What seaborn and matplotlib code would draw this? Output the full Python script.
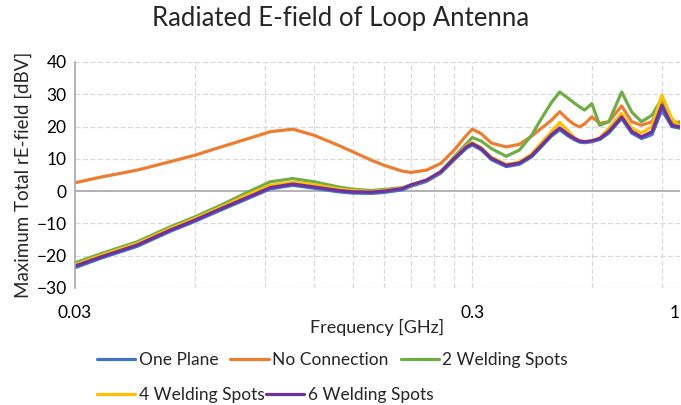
import matplotlib
matplotlib.use("Agg")
import matplotlib.pyplot as plt
import matplotlib.ticker as mticker
from matplotlib.lines import Line2D
import seaborn as sns
import pandas as pd

freq_ghz = [0.03, 0.035, 0.043, 0.052, 0.060, 0.070, 0.082, 0.093, 0.106, 0.12,
            0.138, 0.15, 0.167, 0.18, 0.20, 0.21, 0.23, 0.25, 0.27, 0.29,
            0.30, 0.316, 0.335, 0.365, 0.394, 0.423, 0.448, 0.475, 0.498, 0.524,
            0.543, 0.559, 0.575, 0.60, 0.628, 0.662, 0.713, 0.756, 0.80, 0.85,
            0.90, 0.954, 1.0]

one_plane = [-23.7, -20.7, -17.1, -12.5, -9.4, -5.8, -2.2, 0.7, 1.8, 0.9,
             -0.2, -0.6, -0.7, -0.4, 0.4, 1.5, 3.0, 5.6, 9.7, 13.3,
             14.3, 12.8, 9.8, 7.6, 8.3, 10.6, 13.8, 17.1, 19.0, 17.0,
             15.9, 15.2, 15.0, 15.3, 16.0, 18.0, 22.5, 18.0, 16.3, 17.5,
             25.1, 20.0, 19.5]
no_connection = [2.6, 4.4, 6.5, 9.1, 11.1, 13.7, 16.3, 18.4, 19.2, 17.3,
                 14.2, 12.2, 9.6, 8.0, 6.2, 5.8, 6.5, 8.6, 12.7, 17.3,
                 19.2, 17.8, 14.9, 13.7, 14.5, 17.0, 19.5, 22.0, 24.6, 22.0,
                 20.6, 19.9, 20.8, 23.0, 21.0, 21.5, 26.4, 21.5, 20.4, 21.5,
                 27.0, 21.0, 21.5]
two_spots = [-22.2, -19.3, -15.7, -11.1, -8.0, -4.3, -0.2, 2.9, 3.9, 2.9,
             1.3, 0.6, 0.2, 0.5, 1.1, 1.9, 3.4, 6.0, 10.6, 14.7,
             16.6, 15.5, 13.2, 10.8, 12.7, 17.3, 22.5, 27.5, 30.7, 28.7,
             27.2, 26.1, 25.1, 27.1, 20.4, 21.5, 30.7, 24.5, 21.5, 23.5,
             28.7, 21.5, 21.0]
four_spots = [-22.8, -19.8, -16.2, -11.6, -8.5, -4.9, -1.0, 1.8, 2.8, 2.0,
              0.7, 0.2, -0.1, 0.2, 0.9, 1.9, 3.4, 6.0, 10.3, 14.0,
              15.0, 13.5, 10.5, 8.3, 9.0, 11.5, 15.0, 18.5, 21.3, 18.5,
              16.5, 15.7, 15.3, 15.6, 16.5, 19.5, 24.1, 19.5, 18.0, 20.0,
              29.7, 22.5, 19.9]
six_spots = [-23.2, -20.3, -16.7, -12.1, -9.0, -5.4, -1.8, 1.1, 2.2, 1.3,
             0.2, -0.2, -0.3, 0.0, 0.8, 1.9, 3.4, 6.0, 10.1, 13.7,
             14.7, 13.2, 10.2, 8.0, 8.7, 11.0, 14.2, 17.5, 19.6, 17.5,
             16.3, 15.5, 15.3, 15.6, 16.3, 18.5, 23.0, 18.5, 16.8, 18.4,
             26.6, 20.4, 19.9]

series_names = ["One Plane", "No Connection", "2 Welding Spots",
                "4 Welding Spots", "6 Welding Spots"]
series_values = [one_plane, no_connection, two_spots, four_spots, six_spots]
colors = ["#4472C4", "#ED7D31", "#70AD47", "#FFC000", "#7030A0"]

x_ticks = [0.03, 0.3, 1]
x_tick_labels = ["0.03", "0.3", "1"]
y_ticks = [-30, -20, -10, 0, 10, 20, 30, 40]

rows = []
for name, vals in zip(series_names, series_values):
    for f, v in zip(freq_ghz, vals):
        rows.append({"Frequency": f, "Value": v, "Series": name})
df = pd.DataFrame(rows)

sns.set_theme(style="white")
plt.rcParams["font.family"] = ["Lato", "DejaVu Sans"]

fig = plt.figure(figsize=(6.81, 4.05), dpi=100)
ax = fig.add_axes([75 / 681, 1 - 288 / 405, 605 / 681, 226 / 405])

LW = 2.3
sns.lineplot(data=df, x="Frequency", y="Value", hue="Series",
             hue_order=series_names, palette=colors, sort=False,
             linewidth=LW, ax=ax, legend=False)
for ln in ax.get_lines():
    ln.set_solid_joinstyle("round")
    ln.set_solid_capstyle("round")

ax.set_xscale("log")
ax.set_xlim(0.03, 1.0)
ax.set_ylim(-30, 40)

# gridlines (Excel style)
grid_kw = dict(color="#D9D9D9", linestyle=(0, (4, 2)), linewidth=0.9, zorder=0)
for yv in y_ticks:
    if yv != 0:
        ax.axhline(yv, **grid_kw)
vgrid = [0.06, 0.09, 0.12, 0.15, 0.18, 0.21, 0.24, 0.27, 0.3, 0.6, 0.9]
for xv in vgrid:
    ax.axvline(xv, **grid_kw)
ax.axhline(0, color="#A6A6A6", linewidth=1.2, zorder=1)
for s in ["top", "right", "bottom"]:
    ax.spines[s].set_visible(False)
ax.spines["left"].set_color("#A6A6A6")
ax.spines["left"].set_linewidth(1.2)

ax.xaxis.set_major_locator(mticker.FixedLocator(x_ticks))
ax.xaxis.set_minor_locator(mticker.NullLocator())
ax.set_xticklabels(x_tick_labels)
ax.set_yticks(y_ticks)
ax.tick_params(axis="both", length=0, labelsize=12.5, colors="#000000")
ax.tick_params(axis="x", pad=12)
ax.tick_params(axis="y", pad=6)
last = ax.get_xticklabels()[-1]
last.set_horizontalalignment("right")

ax.set_xlabel("Frequency [GHz]", fontsize=13, labelpad=-1)
ax.set_ylabel("Maximum Total rE-field [dBV]", fontsize=13.5, labelpad=3)
fig.suptitle("Radiated E-field of Loop Antenna", fontsize=18.5, y=0.985)

handles = [Line2D([0], [0], color=c, linewidth=LW) for c in colors]
leg_kw = dict(frameon=False, fontsize=12.5, handlelength=2.2,
              handletextpad=0.2, borderaxespad=0, borderpad=0)
leg1 = fig.legend(handles[:3], series_names[:3], ncol=3, loc="upper left",
                  bbox_to_anchor=(97 / 681, 1 - 352 / 405), columnspacing=0.7,
                  **leg_kw)
leg2 = fig.legend(handles[3:], series_names[3:], ncol=2, loc="upper left",
                  bbox_to_anchor=(97 / 681, 1 - 387 / 405), columnspacing=0.1,
                  **leg_kw)

fig.savefig("out.png", dpi=100)
